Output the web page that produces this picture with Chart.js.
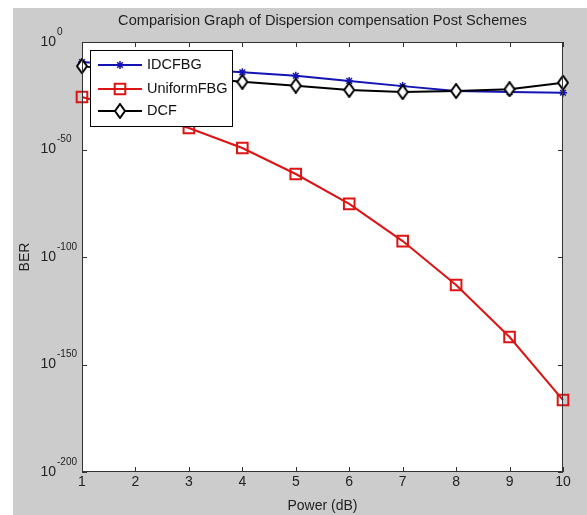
<!DOCTYPE html>
<html>
<head>
<meta charset="utf-8">
<script src="https://cdn.jsdelivr.net/npm/chart.js@4.4.1/dist/chart.umd.min.js"></script>
<style>
  html, body { margin: 0; padding: 0; background: #fff; }
  #wrap { width: 587px; height: 515px; }
</style>
</head>
<body>
<div id="wrap"><canvas id="berChart" width="587" height="515"></canvas></div>
<script>
// values (BER on a log axis)
const powerDb = [1, 2, 3, 4, 5, 6, 7, 8, 9, 10];
const idcfbgBer = [5e-10, 1e-11, 2.5e-13, 8e-15, 2e-16, 8e-19, 3e-21, 1.6e-23, 5e-24, 2.5e-24];
const uniformFbgBer = [2.5e-26, 3e-33, 1e-40, 5e-50, 4e-62, 5e-76, 2.5e-93, 1e-113, 6e-138, 3e-167];
const dcfBer = [6e-12, 1e-14, 3e-17, 3e-19, 5e-21, 5e-23, 5e-24, 1.6e-23, 1.2e-22, 1.2e-19];
const yTickValues = [1, 1e-50, 1e-100, 1e-150, 1e-200];
const yTickExponents = ['0', '-50', '-100', '-150', '-200'];

const FONT = "'Liberation Sans', Arial, sans-serif";
Chart.defaults.font.family = FONT;
Chart.defaults.color = '#222';

// tall matlab-like diamond marker
function makeDiamond() {
  const c = document.createElement('canvas');
  c.width = 12; c.height = 16;
  const g = c.getContext('2d');
  g.beginPath();
  g.moveTo(6, 1); g.lineTo(11, 8); g.lineTo(6, 15); g.lineTo(1, 8);
  g.closePath();
  g.fillStyle = '#fff';
  g.fill();
  g.lineWidth = 2;
  g.strokeStyle = '#000';
  g.stroke();
  return c;
}
const diamond = makeDiamond();

// Matlab style figure: grey background, boxed axes, inward ticks, legend box
const matlabFrame = {
  id: 'matlabFrame',
  beforeDraw(chart) {
    const { ctx, chartArea: a } = chart;
    ctx.save();
    ctx.fillStyle = '#fff';
    ctx.fillRect(0, 0, chart.width, chart.height);
    ctx.fillStyle = '#cccccc';
    ctx.fillRect(13, 8, chart.width - 13, chart.height - 8);
    ctx.fillStyle = '#fff';
    ctx.fillRect(a.left, a.top, a.right - a.left, a.bottom - a.top);
    ctx.restore();
  },
  beforeDatasetsDraw(chart) {
    const { ctx, chartArea: a, scales } = chart;
    ctx.save();
    ctx.strokeStyle = '#333';
    ctx.lineWidth = 1;
    ctx.beginPath();
    scales.x.ticks.forEach((t, i) => {
      const px = Math.round(scales.x.getPixelForTick(i)) + 0.5;
      ctx.moveTo(px, a.bottom); ctx.lineTo(px, a.bottom - 5);
      ctx.moveTo(px, a.top); ctx.lineTo(px, a.top + 5);
    });
    yTickValues.forEach(v => {
      const py = Math.round(scales.y.getPixelForValue(v)) + 0.5;
      ctx.moveTo(a.left, py); ctx.lineTo(a.left + 5, py);
      ctx.moveTo(a.right, py); ctx.lineTo(a.right - 5, py);
    });
    ctx.stroke();

    // tick labels 10^n
    ctx.fillStyle = '#222';
    ctx.textBaseline = 'middle';
    yTickValues.forEach((v, i) => {
      const py = scales.y.getPixelForValue(v);
      ctx.font = '14px ' + FONT;
      ctx.textAlign = 'right';
      ctx.fillText('10', a.left - 26, py);
      ctx.font = '10px ' + FONT;
      ctx.textAlign = 'left';
      ctx.fillText(yTickExponents[i], a.left - 25, py - 10);
    });

    // title
    ctx.font = '14.6px ' + FONT;
    ctx.textAlign = 'center';
    ctx.fillText('Comparision Graph of Dispersion compensation Post Schemes', (a.left + a.right) / 2, 21);
    ctx.restore();
  },
  afterDatasetsDraw(chart) {
    const { ctx, chartArea: a } = chart;
    ctx.save();
    ctx.strokeStyle = '#333';
    ctx.lineWidth = 1;
    ctx.strokeRect(a.left + 0.5, a.top + 0.5, a.right - a.left - 1, a.bottom - a.top - 1);

    // legend
    const box = { x: 90, y: 50, w: 142, h: 76 };
    ctx.fillStyle = '#fff';
    ctx.fillRect(box.x, box.y, box.w, box.h);
    ctx.strokeStyle = '#000';
    ctx.strokeRect(box.x + 0.5, box.y + 0.5, box.w, box.h);
    const rows = [65, 89, 111];
    chart.data.datasets.forEach((ds, i) => {
      const y = rows[i];
      ctx.strokeStyle = ds.borderColor;
      ctx.lineWidth = ds.borderWidth;
      ctx.beginPath();
      ctx.moveTo(98, y); ctx.lineTo(142, y);
      ctx.stroke();
      ctx.fillStyle = ds.pointBackgroundColor;
      ctx.lineWidth = ds.pointBorderWidth;
      Chart.helpers.drawPoint(ctx, {
        pointStyle: ds.pointStyle, radius: ds.pointRadius, borderWidth: ds.pointBorderWidth, rotation: 0
      }, 120, y);
      ctx.fillStyle = '#111';
      ctx.font = '14.5px ' + FONT;
      ctx.textAlign = 'left';
      ctx.textBaseline = 'middle';
      ctx.fillText(ds.label, 147, y);
    });
    ctx.restore();
  }
};

const ctx = document.getElementById('berChart').getContext('2d');
new Chart(ctx, {
  type: 'line',
  data: {
    labels: powerDb,
    datasets: [{
      label: 'IDCFBG',
      data: idcfbgBer,
      borderColor: '#1414b4',
      borderWidth: 2,
      pointStyle: 'star',
      pointRadius: 4,
      pointBorderWidth: 1.5,
      pointBorderColor: '#1414b4',
      pointBackgroundColor: '#1414b4',
      tension: 0,
      clip: false,
      order: 3
    }, {
      label: 'UniformFBG',
      data: uniformFbgBer,
      borderColor: '#dc1414',
      borderWidth: 2,
      pointStyle: 'rect',
      pointRadius: 7.5,
      pointBorderWidth: 2,
      pointBorderColor: '#dc1414',
      pointBackgroundColor: 'rgba(255,255,255,0)',
      tension: 0,
      clip: false,
      order: 2
    }, {
      label: 'DCF',
      data: dcfBer,
      borderColor: '#000',
      borderWidth: 2,
      pointStyle: diamond,
      pointRadius: 6,
      pointBorderWidth: 2,
      pointBorderColor: '#000',
      pointBackgroundColor: '#fff',
      tension: 0,
      clip: false,
      order: 1
    }]
  },
  options: {
    responsive: false,
    animation: false,
    events: [],
    layout: { padding: { left: 13, top: 42, right: 24, bottom: 0 } },
    plugins: {
      legend: { display: false },
      tooltip: { enabled: false }
    },
    scales: {
      x: {
        type: 'category',
        offset: false,
        grid: { display: false, drawTicks: false },
        border: { display: false },
        ticks: { font: { size: 14 }, padding: 2, maxRotation: 0, autoSkip: false },
        title: { display: true, text: 'Power (dB)', font: { size: 14 }, padding: { top: 0, bottom: 0 } },
        afterFit: s => { s.height = 43; }
      },
      y: {
        type: 'logarithmic',
        min: 1e-200,
        max: 1,
        grid: { display: false, drawTicks: false },
        border: { display: false },
        ticks: { display: false },
        afterBuildTicks: s => { s.ticks = yTickValues.map(v => ({ value: v })); },
        title: { display: true, text: 'BER', font: { size: 14 }, padding: { top: 4, bottom: 4 } },
        afterFit: s => { s.width = 69; }
      }
    }
  },
  plugins: [matlabFrame]
});
</script>
</body>
</html>
